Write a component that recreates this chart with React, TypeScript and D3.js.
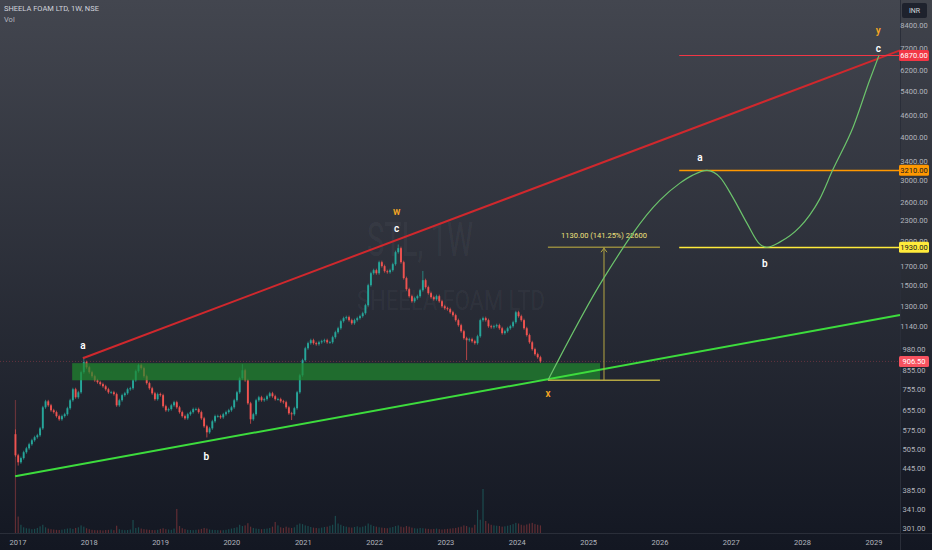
import * as d3 from 'd3';

// Sheela Foam weekly chart with a wave count drawn on it (TradingView look)

const W = 932;
const H = 550;
const AXIS_X = 900; // left edge of the price scale
const AXIS_Y = 533; // top edge of the time scale

const symbolTitle = 'SHEELA FOAM LTD, 1W, NSE';
const watermarkTicker = 'STL, 1W';
const watermarkName = 'SHEELA FOAM LTD';

// candles, one every two weeks
const firstBarDate = new Date(2016, 11, 19);
const barDays = 14;
const firstOpen = 560;
const closes = [
  487, 465, 478, 497, 510, 524, 538, 549, 556, 582,
  669, 696, 678, 656, 648, 631, 618, 631, 639, 665,
  701, 754, 715, 739, 844, 902, 872, 844, 822, 800,
  790, 780, 769, 754, 739, 739, 730, 678, 701, 725,
  734, 754, 759, 800, 850, 884, 867, 822, 785, 759,
  734, 706, 730, 725, 674, 656, 661, 678, 692, 669,
  648, 631, 622, 639, 648, 661, 661, 648, 622, 590,
  567, 582, 610, 631, 631, 626, 639, 648, 656, 669,
  701, 739, 811, 855, 800, 687, 618, 639, 701, 715,
  701, 706, 720, 734, 720, 706, 706, 696, 692, 669,
  643, 639, 665, 739, 827, 914, 989, 1023, 1043, 1023,
  1016, 1029, 1036, 1043, 1029, 1029, 1064, 1100, 1129, 1183,
  1207, 1215, 1191, 1167, 1191, 1207, 1223, 1247, 1315, 1501,
  1625, 1658, 1625, 1748, 1703, 1647, 1636, 1658, 1725, 1868,
  1918, 1748, 1573, 1462, 1396, 1350, 1377, 1396, 1452, 1552,
  1482, 1424, 1387, 1368, 1396, 1350, 1306, 1289, 1281, 1255,
  1231, 1191, 1152, 1107, 1057, 1043, 1050, 1036, 1023, 1071,
  1191, 1207, 1191, 1144, 1137, 1144, 1152, 1129, 1093, 1107,
  1129, 1144, 1175, 1255, 1223, 1191, 1129, 1079, 1029, 983,
  951, 932, 906.5,
];
// volume, thousand shares
const volumes = [
  4200, 520, 260, 180, 150, 140, 120, 130, 160, 210,
  260, 180, 140, 120, 110, 100, 95, 105, 120, 140,
  150, 130, 160, 180, 240, 200, 150, 120, 100, 90,
  85, 90, 80, 95, 100, 110, 90, 230, 120, 100,
  90, 95, 110, 410, 160, 180, 140, 120, 110, 100,
  95, 90, 100, 130, 150, 120, 110, 100, 140, 760,
  220, 150, 120, 100, 95, 90, 100, 110, 130, 160,
  140, 110, 100, 95, 90, 85, 90, 100, 120, 140,
  160, 180, 260, 220, 240, 310, 200, 160, 140, 130,
  120, 130, 140, 160, 200, 350, 240, 180, 160, 200,
  170, 160, 180, 260, 300, 280, 240, 220, 190, 170,
  160, 150, 170, 190, 200, 230, 260, 540, 300, 260,
  220, 200, 180, 170, 190, 210, 180, 200, 230, 300,
  260, 220, 200, 180, 170, 160, 150, 170, 190, 220,
  240, 200, 180, 220, 200, 170, 150, 140, 160, 150,
  140, 130, 120, 130, 140, 120, 110, 120, 130, 140,
  150, 160, 180, 200, 240, 220, 180, 170, 260, 730,
  420, 1390, 380, 300, 260, 240, 230, 220, 200, 210,
  230, 250, 280, 320, 300, 260, 240, 270, 300, 320,
  280, 260, 240,
];
// notable wick extremes: [bar index, price]
const wickHighs = [[0, 578], [25, 935], [83, 890], [140, 1965], [149, 1650]];
const wickLows = [[1, 455], [70, 548], [86, 600], [101, 615], [165, 915]];

const priceTicks = [8400, 7200, 6200, 5400, 4600, 4000, 3400, 3000, 2600, 2300, 2000, 1700, 1500, 1300, 1140, 980, 855, 755, 655, 575, 505, 445, 385, 341, 301];
const yearTicks = [2017, 2018, 2019, 2020, 2021, 2022, 2023, 2024, 2025, 2026, 2027, 2028, 2029];
const lastPrice = 906.5;

// drawings, [decimal year, price]
const resistanceLine = [[2017.91, 926], [2029.18, 6870]];
const supportLine = [[2016.96, 424], [2024.43, 806]];
const demandZone = { from: 2017.76, to: 2025.16, low: 800, high: 896 };
const projectionPath = [
  [2024.43, 800], [2025.22, 1583], [2026.0, 2636], [2026.28, 2950], [2026.46, 3110],
  [2026.66, 3210], [2026.84, 3069], [2027.02, 2689], [2027.22, 2264], [2027.4, 1970],
  [2027.5, 1930], [2027.68, 1996], [2027.96, 2204], [2028.1, 2387], [2028.24, 2654],
  [2028.42, 3210], [2028.71, 4284], [2028.94, 5836], [2029.07, 6870],
];
const rangeTool = { from: 2024.43, to: 2026.0, mid: 2025.215, low: 800, high: 1930, text: '1130.00 (141.25%) 22600' };
const levelStart = 2026.27;
const levels = [
  { price: 6870, color: '#f23645', text: '#ffffff', width: 1 },
  { price: 3210, color: '#ff9800', text: '#131722', width: 1.6 },
  { price: 1930, color: '#ffeb3b', text: '#131722', width: 1.6 },
];
const waveLabels = [
  { t: 'a', year: 2017.91, price: 1009, color: '#ffffff' },
  { t: 'b', year: 2019.64, price: 484, color: '#ffffff' },
  { t: 'w', year: 2022.31, price: 2440, color: '#f5a623' },
  { t: 'c', year: 2022.31, price: 2185, color: '#ffffff' },
  { t: 'x', year: 2024.43, price: 734, color: '#f5a623' },
  { t: 'a', year: 2026.56, price: 3504, color: '#ffffff' },
  { t: 'b', year: 2027.47, price: 1737, color: '#ffffff' },
  { t: 'y', year: 2029.06, price: 8080, color: '#f5a623' },
  { t: 'c', year: 2029.06, price: 7170, color: '#ffffff' },
];

const UP = '#26a69a';
const DOWN = '#ef5350';
const FONT = "Roboto, 'Noto Sans', 'DejaVu Sans', sans-serif";

function fromYear(v: number) {
  const y = Math.floor(v);
  const a = new Date(y, 0, 1).getTime();
  const b = new Date(y + 1, 0, 1).getTime();
  return new Date(a + (v - y) * (b - a));
}

export default function App() {
  const x = d3.scaleTime().domain([new Date(2017, 0, 1), new Date(2029, 0, 1)]).range([18, 874]);
  const y = d3.scaleLog().domain([8400, 301]).range([25, 528]);
  const vol = d3.scaleLinear().domain([0, d3.max(volumes) || 1]).range([0, 133]);
  const xy = (p: number[]) => [x(fromYear(p[0])), y(p[1])] as [number, number];

  const bars = closes.map((c, i) => {
    const o = i === 0 ? firstOpen : closes[i - 1];
    const hiOverride = wickHighs.find((w) => w[0] === i);
    const loOverride = wickLows.find((w) => w[0] === i);
    const top = y(Math.max(o, c));
    const bot = y(Math.min(o, c));
    return {
      cx: x(d3.timeDay.offset(firstBarDate, i * barDays)),
      up: c >= o,
      top,
      bot,
      wTop: hiOverride ? y(hiOverride[1]) : top - 1.5,
      wBot: loOverride ? y(loOverride[1]) : bot + 1.5,
      v: volumes[i],
    };
  });

  // extend a two point line to the price scale
  const extend = (pts: number[][]) => {
    const [a, b] = pts.map(xy);
    const k = (b[1] - a[1]) / (b[0] - a[0]);
    return { x1: a[0], y1: a[1], x2: AXIS_X, y2: a[1] + k * (AXIS_X - a[0]) };
  };
  const res = extend(resistanceLine);
  const sup = extend(supportLine);

  const curve = d3.line().curve(d3.curveMonotoneX)(projectionPath.map(xy)) || '';

  const rx1 = x(fromYear(rangeTool.from));
  const rx2 = x(fromYear(rangeTool.to));
  const rxm = x(fromYear(rangeTool.mid));
  const ryTop = y(rangeTool.high);
  const ryBot = y(rangeTool.low);

  const zx1 = x(fromYear(demandZone.from));
  const zx2 = x(fromYear(demandZone.to));

  const lvX = x(fromYear(levelStart));
  const lastY = y(lastPrice);

  const axisLabel = (py: number, text: string, bg: string, fg: string, key: string) => (
    <g key={key}>
      <rect x={AXIS_X - 1} y={py - 5.5} width={30} height={11} rx={1.5} fill={bg} />
      <text x={AXIS_X + 14} y={py} fill={fg} fontSize={7.5} textAnchor="middle" dominantBaseline="central">{text}</text>
    </g>
  );

  return (
    <svg width={W} height={H} style={{ position: 'absolute', left: 0, top: 0 }} fontFamily={FONT}>
      <defs>
        <linearGradient id="bg" x1="0" y1="0" x2="0" y2="1">
          <stop offset="0%" stopColor="#43464f" />
          <stop offset="100%" stopColor="#131722" />
        </linearGradient>
      </defs>
      <rect width={W} height={H} fill="url(#bg)" />

      {/* watermark */}
      <text x={420} y={256} fontSize={48} fill="#ffffff" fillOpacity={0.05} textAnchor="middle" textLength={106} lengthAdjust="spacingAndGlyphs">{watermarkTicker}</text>
      <text x={451} y={310} fontSize={28} fill="#ffffff" fillOpacity={0.05} textAnchor="middle" textLength={188} lengthAdjust="spacingAndGlyphs">{watermarkName}</text>

      {/* volume */}
      {bars.map((b, i) => (
        <rect key={'v' + i} x={b.cx - 0.6} y={AXIS_Y - vol(b.v)} width={1.2} height={vol(b.v)} fill={b.up ? UP : DOWN} fillOpacity={0.35} />
      ))}

      {/* last price line */}
      <line x1={0} x2={AXIS_X} y1={lastY} y2={lastY} stroke="#f7525f" strokeOpacity={0.3} strokeDasharray="1 2" />

      {/* candles */}
      {bars.map((b, i) => (
        <g key={'c' + i} stroke={b.up ? UP : DOWN} fill={b.up ? UP : DOWN}>
          <line x1={b.cx} x2={b.cx} y1={b.wTop} y2={b.wBot} strokeWidth={0.7} />
          <rect x={b.cx - 0.95} y={b.top} width={1.9} height={Math.max(0.8, b.bot - b.top)} stroke="none" />
        </g>
      ))}

      {/* demand zone */}
      <rect x={zx1} y={y(demandZone.high)} width={zx2 - zx1} height={y(demandZone.low) - y(demandZone.high)} fill="#1f8a2e" fillOpacity={0.7} />

      {/* trend lines */}
      <line {...res} stroke="#d0282d" strokeWidth={2} />
      <line {...sup} stroke="#3ddc3d" strokeWidth={2} />

      {/* measurement */}
      <g stroke="#b5a642" strokeWidth={1.5}>
        <line x1={rx1} x2={rx2} y1={ryTop} y2={ryTop} strokeOpacity={0.75} />
        <line x1={rx1} x2={rx2} y1={ryBot} y2={ryBot} />
        <line x1={rxm} x2={rxm} y1={ryBot} y2={ryTop} strokeWidth={1} />
        <path d={`M${rxm - 3},${ryTop + 5}L${rxm},${ryTop + 1}L${rxm + 3},${ryTop + 5}`} fill="none" strokeWidth={1} />
      </g>
      <text x={rxm} y={ryTop - 12} fill="#f2e47c" fontSize={7.5} textAnchor="middle" dominantBaseline="central">{rangeTool.text}</text>

      {/* target levels */}
      {levels.map((l) => (
        <line key={'l' + l.price} x1={lvX} x2={AXIS_X} y1={Math.round(y(l.price)) + 0.5} y2={Math.round(y(l.price)) + 0.5} stroke={l.color} strokeWidth={l.width} />
      ))}

      {/* projected path */}
      <path d={curve} fill="none" stroke="#6cc46c" strokeWidth={1.2} />

      {/* wave labels */}
      {waveLabels.map((w, i) => (
        <text key={'w' + i} x={x(fromYear(w.year))} y={y(w.price)} fill={w.color} fontSize={10} fontWeight={600} textAnchor="middle" dominantBaseline="central">{w.t}</text>
      ))}

      {/* header */}
      <text x={4} y={11} fill="#d1d4dc" fontSize={7.5}>{symbolTitle}</text>
      <text x={4} y={22} fill="#b2b5be" fontSize={7.5}>Vol</text>

      {/* price scale */}
      <rect x={AXIS_X} y={0} width={W - AXIS_X} height={AXIS_Y} fill="#000000" fillOpacity={0.04} />
      <line x1={AXIS_X + 0.5} x2={AXIS_X + 0.5} y1={0} y2={H} stroke="#2a2e39" />
      {priceTicks.map((p) => (
        <text key={'p' + p} x={AXIS_X + 14} y={y(p)} fill="#b2b5be" fontSize={7.5} textAnchor="middle" dominantBaseline="central">{p.toFixed(2)}</text>
      ))}
      <rect x={AXIS_X + 2} y={3} width={25} height={15} rx={2} fill="#1e222d" />
      <text x={AXIS_X + 14.5} y={10.5} fill="#d1d4dc" fontSize={7} textAnchor="middle" dominantBaseline="central">INR</text>
      {levels.map((l) => axisLabel(y(l.price), l.price.toFixed(2), l.color, l.text, 'a' + l.price))}
      {axisLabel(lastY, lastPrice.toFixed(2), '#f7525f', '#ffffff', 'last')}

      {/* time scale */}
      <line x1={0} x2={W} y1={AXIS_Y + 0.5} y2={AXIS_Y + 0.5} stroke="#2a2e39" />
      {yearTicks.map((t) => (
        <text key={'t' + t} x={x(new Date(t, 0, 1))} y={542} fill="#b2b5be" fontSize={7.5} textAnchor="middle" dominantBaseline="central">{t}</text>
      ))}
    </svg>
  );
}
